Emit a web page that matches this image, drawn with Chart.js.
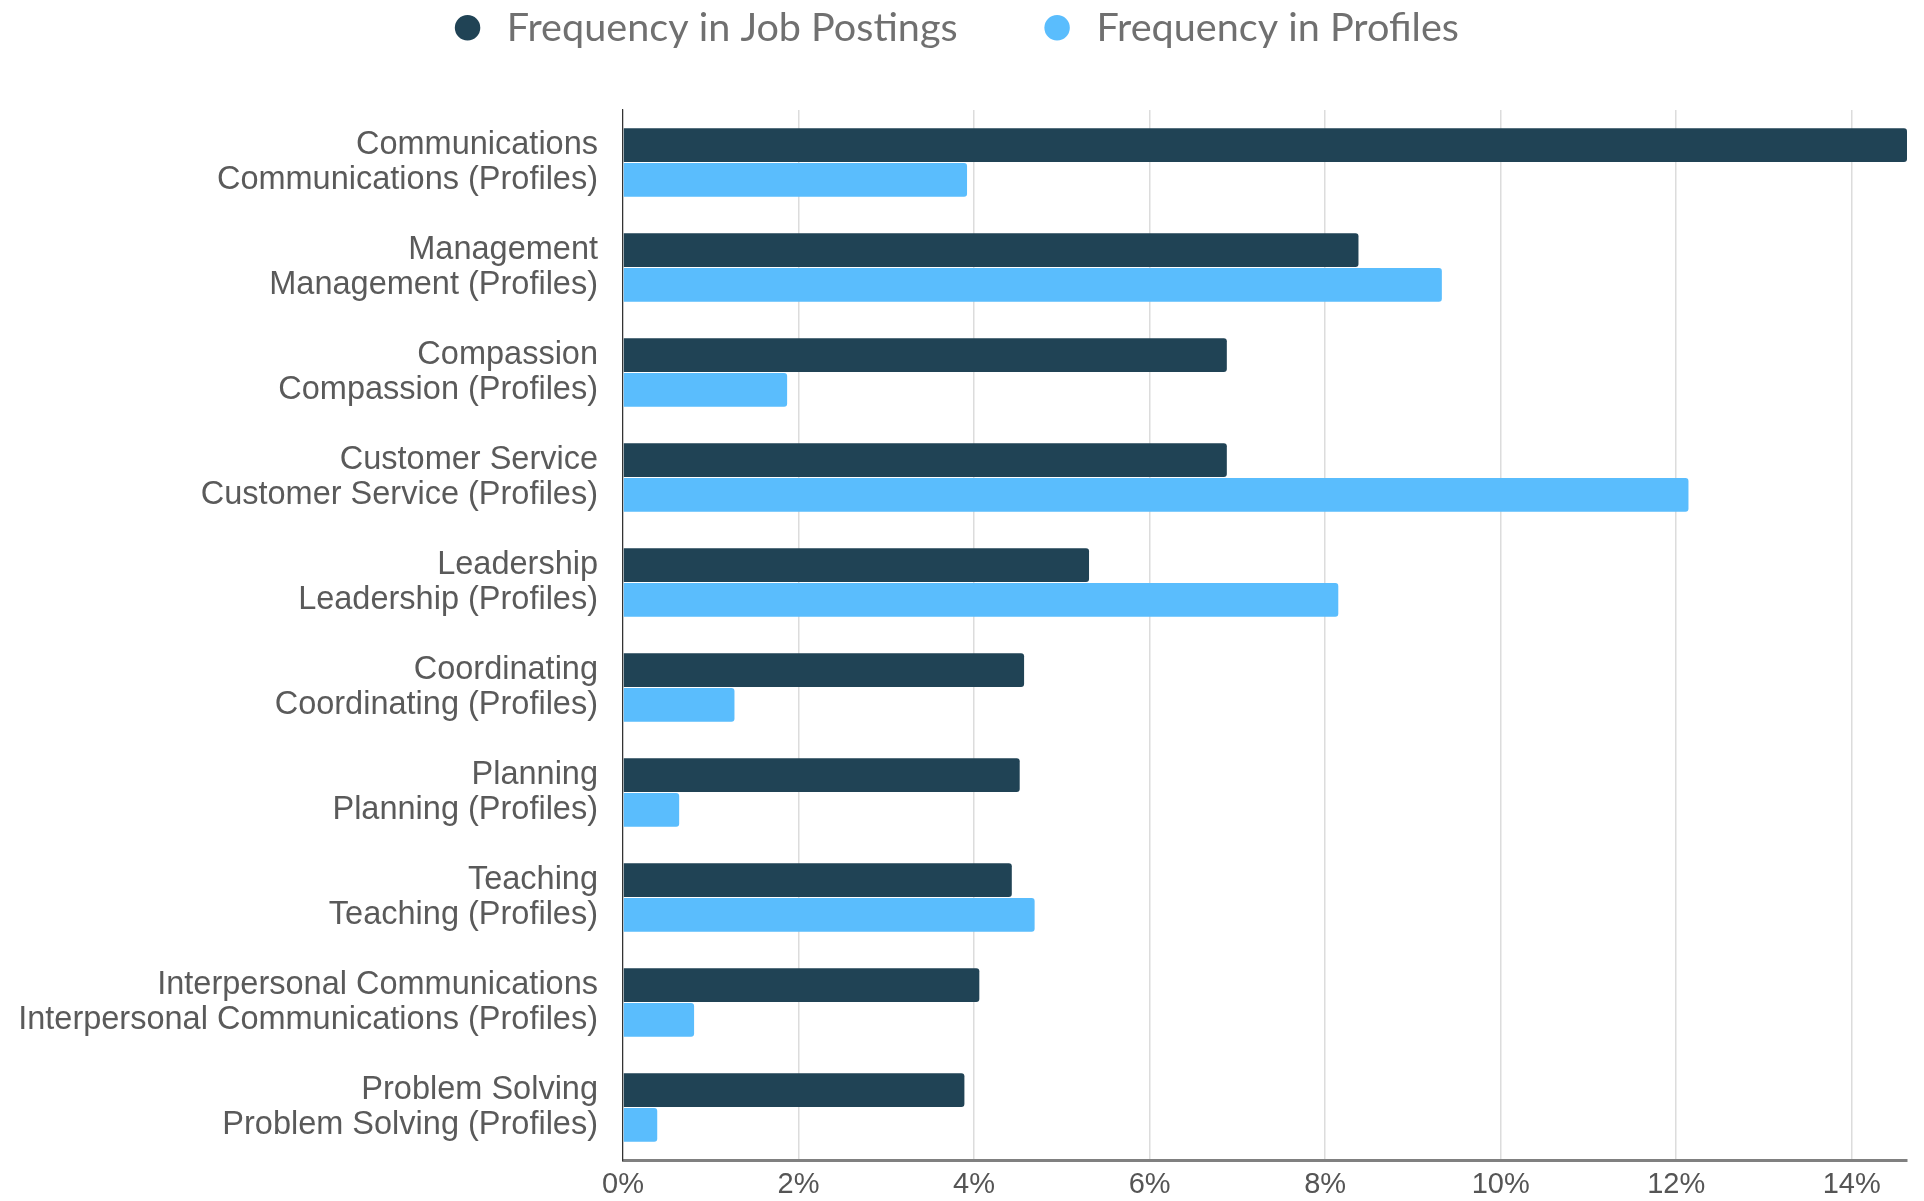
<!DOCTYPE html>
<html>
<head>
<meta charset="utf-8">
<script src="https://cdn.jsdelivr.net/npm/chart.js@4.4.1/dist/chart.umd.min.js"></script>
<style>
  html, body { margin: 0; padding: 0; background: #fff; }
  #wrap { width: 1924px; height: 1201px; }
</style>
</head>
<body>
<div id="wrap"><canvas id="chart"></canvas></div>
<script>
// Skills
const skills = [
    'Communications',
    'Management',
    'Compassion',
    'Customer Service',
    'Leadership',
    'Coordinating',
    'Planning',
    'Teaching',
    'Interpersonal Communications',
    'Problem Solving',
];

// Percent values
const jobPostings = [14.63, 8.38, 6.88, 6.88, 5.31, 4.57, 4.52, 4.43, 4.06, 3.89];
const profiles = [3.92, 9.33, 1.87, 12.14, 8.15, 1.27, 0.64, 4.69, 0.81, 0.39];

const seriesNames = ['Frequency in Job Postings', 'Frequency in Profiles'];
const seriesColors = ['#204355', '#5abdfd'];

// x axis tick values (%)
const xTicks = [0, 2, 4, 6, 8, 10, 12, 14];
const xMax = Math.max(...jobPostings, ...profiles);

// two line labels: skill name, then skill name (Profiles)
const labels = skills.map(s => [s, s + ' (Profiles)']);

const legendPad = 80;

// fix legend height so the plot starts where it does in the picture,
// and pull the legend up so the wide item padding doesn't push it down
const legendHeight = {
    id: 'legendHeight',
    beforeInit(chart) {
        const fit = chart.legend.fit;
        chart.legend.fit = function () {
            fit.bind(chart.legend)();
            this.height = 110;
        };
    },
    afterLayout(chart) {
        chart.legend.top = 8 - legendPad;
    }
};

const ctx = document.getElementById('chart');

new Chart(ctx, {
    type: 'bar',
    plugins: [legendHeight],
    data: {
        labels: labels,
        datasets: [
            {
                label: seriesNames[0],
                data: jobPostings,
                backgroundColor: seriesColors[0],
                borderRadius: 3,
                borderSkipped: 'start',
                categoryPercentage: 0.66,
                barPercentage: 0.97,
            },
            {
                label: seriesNames[1],
                data: profiles,
                backgroundColor: seriesColors[1],
                borderRadius: 3,
                borderSkipped: 'start',
                categoryPercentage: 0.66,
                barPercentage: 0.97,
            },
        ],
    },
    options: {
        indexAxis: 'y',
        responsive: true,
        maintainAspectRatio: false,
        animation: false,
        layout: { padding: { left: 0, right: 17, top: 0, bottom: 0 } },
        plugins: {
            tooltip: { enabled: false },
            legend: {
                position: 'top',
                labels: {
                    usePointStyle: true,
                    pointStyle: 'circle',
                    boxWidth: 39,
                    boxHeight: 18,
                    padding: legendPad,
                    color: '#707070',
                    font: { family: 'Lato', size: 39.6 },
                },
            },
        },
        scales: {
            x: {
                min: 0,
                max: xMax,
                afterBuildTicks: (scale) => {
                    scale.ticks = xTicks.map(v => ({ value: v }));
                },
                afterFit: (scale) => { scale.height = 41; },
                ticks: {
                    padding: 8,
                    color: '#555',
                    font: { family: 'Liberation Sans', size: 29 },
                    callback: (v) => v + '%',
                },
                grid: { color: '#dcdcdc', lineWidth: 1.5, drawTicks: false },
                border: { color: '#808080', width: 3 },
            },
            y: {
                afterFit: (scale) => {
                    scale.width = 623;
                    scale.paddingTop = 0;
                    scale.paddingBottom = 0;
                },
                ticks: {
                    padding: 25,
                    color: '#5a5a5a',
                    font: { family: 'Liberation Sans', size: 32.5, lineHeight: 1.1 },
                },
                grid: { display: false, drawTicks: false },
                border: { color: '#333', width: 1.2 },
            },
        },
    },
});
</script>
</body>
</html>
